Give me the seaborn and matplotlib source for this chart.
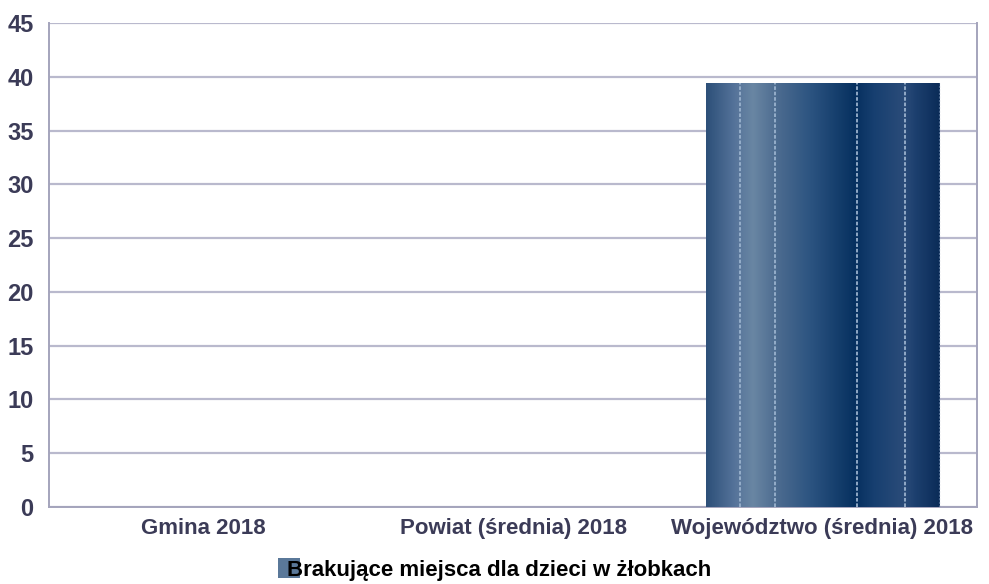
import numpy as np
import pandas as pd
import seaborn as sns
import matplotlib.pyplot as plt
from matplotlib.colors import LinearSegmentedColormap
from matplotlib.patches import Patch

# ----- Data -----
categories = ["Gmina 2018", "Powiat (średnia) 2018", "Województwo (średnia) 2018"]
values = [0, 0, 39.4]
series_name = "Brakujące miejsca dla dzieci w żłobkach"
y_ticks = [0, 5, 10, 15, 20, 25, 30, 35, 40, 45]

df = pd.DataFrame({"Kategoria": categories, "Wartość": values})

# ----- Style -----
sns.set_theme(style="white")
plt.rcParams["font.family"] = ["Liberation Sans", "DejaVu Sans"]
grid_col = "#b9b9cd"
label_col = "#3b3b57"

# gradient used inside the bar (left light steel blue -> dark navy)
stops = [
    (0.00, "#2d5079"), (0.12, "#55739a"), (0.20, "#6986a3"), (0.30, "#4d6c90"),
    (0.45, "#2b5380"), (0.64, "#06305f"), (0.72, "#173f70"), (0.85, "#2b4c79"),
    (0.90, "#1c3f6e"), (1.00, "#0b2c58"),
]
bar_cmap = LinearSegmentedColormap.from_list("bar_grad", stops)
stripe_pos = [0.146, 0.296, 0.648, 0.854]

fig = plt.figure(figsize=(9.89, 5.84), dpi=100)
ax = fig.add_axes([0.0495, 0.132, 0.9385, 0.8286])

sns.barplot(data=df, x="Kategoria", y="Wartość", color="#1f4472", width=0.755,
            ax=ax, zorder=3, linewidth=0)

ax.set_ylim(0, 45)
ax.set_yticks(y_ticks)
ax.set_xlim(-0.5, len(categories) - 0.5)
ax.yaxis.grid(True, color=grid_col, linewidth=1.6, zorder=0)
ax.set_axisbelow(True)

ax.spines["top"].set_visible(False)
for side in ["left", "right", "bottom"]:
    ax.spines[side].set_color("#a4a4bc")
    ax.spines[side].set_linewidth(1.4)

# paint the gradient into each non-empty bar
grad = np.linspace(0, 1, 400).reshape(1, -1)
for p in ax.patches:
    h = p.get_height()
    if h <= 0:
        continue
    x0, w = p.get_x(), p.get_width()
    p.set_facecolor("none")
    im = ax.imshow(grad, cmap=bar_cmap, aspect="auto",
                   extent=[x0, x0 + w, 0, h], zorder=3.5)
    im.set_clip_path(p)
    for f in stripe_pos:
        ax.vlines(x0 + f * w, 0, h, colors="#9ab2cd", linewidth=1.3,
                  linestyles=(0, (2, 1.0)), zorder=4)
    ax.vlines(x0 + 0.997 * w, 0, h, colors="#4d6a90", linewidth=0.8,
              linestyles=(0, (2, 1.2)), zorder=4)

ax.set_xlabel("")
ax.set_ylabel("")
ax.tick_params(axis="both", length=0)
ax.tick_params(axis="y", pad=11)
ax.tick_params(axis="x", pad=8)
for lab in ax.get_yticklabels():
    lab.set_fontsize(17)
    lab.set_fontweight("bold")
    lab.set_color(label_col)
for lab in ax.get_xticklabels():
    lab.set_fontsize(16)
    lab.set_fontweight("bold")
    lab.set_color(label_col)

handle = Patch(facecolor="#5a7899", edgecolor="none")
fig.legend([handle], [series_name], loc="center", bbox_to_anchor=(0.5, 0.025),
           frameon=False, handlelength=1.0, handleheight=1.0, handletextpad=-0.6,
           borderpad=0.0, borderaxespad=0.0,
           prop={"size": 16, "weight": "bold"}, labelcolor="black")

fig.savefig("out.png", dpi=100)
